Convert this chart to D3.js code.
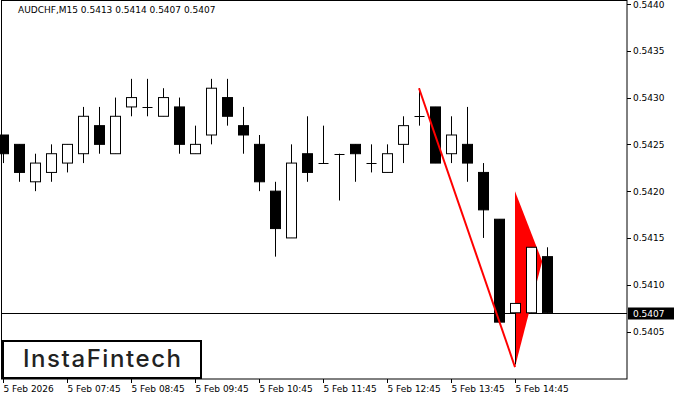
<!DOCTYPE html><html><head><meta charset="utf-8"><script src="https://cdn.jsdelivr.net/npm/d3@7"></script>
<style>body{margin:0;background:#fff}svg{display:block}</style></head><body><svg id="c" width="700" height="400"></svg><script>
const opens =[.5426,.5425,.5421,.5422,.5423,.5424,.5427,.5424,.5429,.5429,.5428,.5429,.5424,.5426,.5430,.5427,.5425,.5420,.5415,.5424,.5423,.5424,.5425,.5423,.5422,.5425,.5428,.5429,.5424,.5425,.5422,.5417,.5407,.5407,.5413];
const highs =[.5426,.5425,.5424,.5425,.5425,.5429,.5429,.5430,.5432,.5432,.5431,.5430,.5427,.5432,.5432,.5429,.5426,.5421,.5425,.5428,.5427,.5424,.5425,.5425,.5425,.5428,.5431,.5429,.5428,.5429,.5423,.5417,.5408,.5414,.5414];
const lows  =[.5423,.5421,.5420,.5421,.5422,.5423,.5424,.5424,.5428,.5428,.5428,.5424,.5424,.5425,.5427,.5424,.5420,.5413,.5415,.5421,.5423,.5419,.5421,.5422,.5422,.5423,.5427,.5423,.5423,.5421,.5415,.5406,.54015,.5407,.5407];
const closes=[.5424,.5422,.5423,.5424,.5425,.5428,.5425,.5428,.5430,.5429,.5430,.5425,.5425,.5431,.5428,.5426,.5421,.5416,.5423,.5422,.5423,.5424,.5424,.5423,.5424,.5427,.5428,.5423,.5426,.5423,.5418,.5406,.5408,.5414,.5407];
const timeLabels=["5 Feb 2026","5 Feb 07:45","5 Feb 08:45","5 Feb 09:45","5 Feb 10:45","5 Feb 11:45","5 Feb 12:45","5 Feb 13:45","5 Feb 14:45"];
const priceTicks=[.5405,.5410,.5415,.5420,.5425,.5430,.5435,.5440];
const lastPrice=.5407;
const poleStart=[26,.5431], poleEnd=[32,.54012];
const pennant=[[32,.5420],[33.7,.54125],[32,.54012]];

const svg=d3.select("#c");
const x=d3.scaleLinear().domain([0,1]).range([3,19]);
const y=d3.scaleLinear().domain([.5440,.5405]).range([4,331.5]);
const R=627,B=379;
svg.append("rect").attr("x",1.5).attr("y",0.5).attr("width",R-1.5).attr("height",B-0.5).attr("fill","none").attr("stroke","#000");
priceTicks.forEach(p=>{
  svg.append("line").attr("x1",R).attr("x2",R+4).attr("y1",Math.round(y(p))+.5).attr("y2",Math.round(y(p))+.5).attr("stroke","#000");
  svg.append("text").attr("x",633).attr("y",y(p)+3.5).attr("font-family","DejaVu Sans, sans-serif").attr("font-size",9).text(p.toFixed(4));
});
timeLabels.forEach((t,i)=>{
  const xx=Math.round(x(i*4))+.5;
  svg.append("line").attr("x1",xx).attr("x2",xx).attr("y1",B).attr("y2",B+4).attr("stroke","#000");
  svg.append("text").attr("x",xx).attr("y",392).attr("font-family","DejaVu Sans, sans-serif").attr("font-size",9).text(t);
});
const ly=Math.round(y(lastPrice))+.5;
svg.append("line").attr("x1",1.5).attr("x2",R).attr("y1",ly).attr("y2",ly).attr("stroke","#000");
svg.append("rect").attr("x",R+1).attr("y",ly-6).attr("width",46).attr("height",12).attr("fill","#000");
svg.append("text").attr("x",633).attr("y",ly+3.5).attr("fill","#fff").attr("font-family","DejaVu Sans, sans-serif").attr("font-size",9).text(lastPrice.toFixed(4));
svg.append("polygon").attr("points",pennant.map(d=>x(d[0])+","+y(d[1])).join(" ")).attr("fill","#ff0000");
opens.forEach((o,i)=>{
  const c=closes[i],cx=Math.round(x(i))+.5;
  svg.append("line").attr("x1",cx).attr("x2",cx).attr("y1",y(highs[i])).attr("y2",y(lows[i])).attr("stroke","#000");
  const t=y(Math.max(o,c)),b=y(Math.min(o,c));
  if(b-t<1){svg.append("line").attr("x1",cx-5).attr("x2",cx+5).attr("y1",Math.round(t)+.5).attr("y2",Math.round(t)+.5).attr("stroke","#000");}
  else svg.append("rect").attr("x",cx-5).attr("y",t).attr("width",10).attr("height",b-t).attr("fill",c<o?"#000":"#fff").attr("stroke","#000");
});
svg.append("line").attr("x1",x(poleStart[0])).attr("y1",y(poleStart[1])).attr("x2",x(poleEnd[0])).attr("y2",y(poleEnd[1])).attr("stroke","#ff0000").attr("stroke-width",2);
svg.append("text").attr("x",18).attr("y",13).attr("font-family","DejaVu Sans, sans-serif").attr("font-size",9).text("AUDCHF,M15  0.5413 0.5414 0.5407 0.5407");
svg.append("rect").attr("x",3).attr("y",341).attr("width",198).attr("height",37).attr("fill","#fff").attr("stroke","#000").attr("stroke-width",2);
svg.append("text").attr("x",102).attr("y",367).attr("text-anchor","middle").attr("textLength",158).attr("font-family","Inter, sans-serif").attr("font-weight",500).attr("fill","#222").attr("font-size",24).text("InstaFintech");
</script></body></html>
